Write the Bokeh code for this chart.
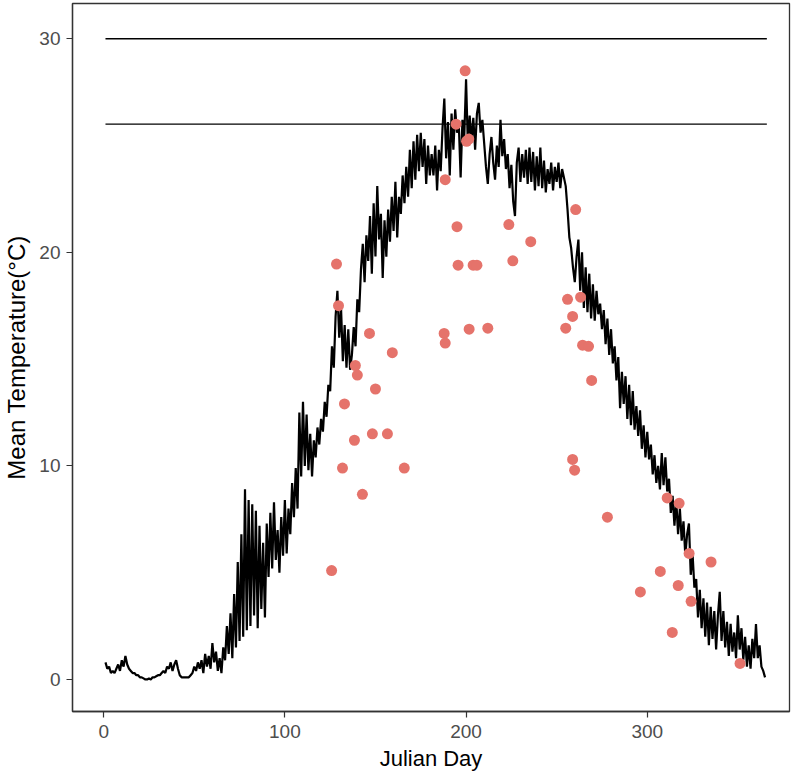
from bokeh.plotting import figure
from bokeh.models import Range1d, FixedTicker
from bokeh.embed import file_html
from bokeh.resources import INLINE

# Daily mean water temperature (Julian day 1..365)
temp = [
    0.8, 0.5, 0.6, 0.3, 0.4, 0.3, 0.5, 0.7, 0.4, 0.9,
    0.6, 1.1, 0.7, 0.5, 0.4, 0.3, 0.3, 0.2, 0.2, 0.1,
    0.1, 0.05, 0.0, 0.0, 0.05, 0.0, 0.1, 0.1, 0.15, 0.2,
    0.2, 0.3, 0.4, 0.3, 0.6, 0.5, 0.8, 0.4, 0.7, 0.9,
    0.5, 0.2, 0.1, 0.1, 0.1, 0.1, 0.1, 0.2, 0.3, 0.6,
    0.4, 0.8, 0.5, 0.9, 0.3, 1.2, 0.6, 1.1, 0.5, 1.7,
    0.8, 1.3, 0.4, 1.0, 0.3, 1.5, 0.9, 2.5, 1.2, 3.1,
    1.0, 4.0, 1.5, 5.5, 1.8, 6.8, 2.0, 8.9, 2.3, 8.4,
    2.5, 8.2, 3.0, 7.9, 2.4, 7.2, 3.3, 6.4, 2.9, 7.3,
    4.8, 7.8, 5.2, 8.3, 5.6, 7.0, 5.0, 7.6, 5.8, 8.4,
    5.9, 8.0, 6.8, 9.2, 7.6, 9.9, 8.0, 12.5, 9.5, 13.0,
    10.0, 12.4, 9.8, 11.5, 9.5, 11.2, 10.4, 11.8, 11.0, 12.2,
    11.6, 13.0, 12.3, 13.8, 13.5, 15.6, 14.6, 17.0, 18.2, 16.0,
    17.4, 14.9, 16.6, 14.6, 16.4, 14.5, 15.2, 16.5, 15.6, 17.8,
    17.2, 19.2, 20.4, 18.6, 20.8, 19.6, 21.7, 19.0, 22.3, 19.8,
    23.1, 20.6, 21.8, 18.8, 21.5, 19.8, 22.0, 20.5, 22.6, 21.0,
    23.3, 20.7, 22.6, 21.8, 23.6, 22.3, 24.0, 22.6, 24.8, 23.0,
    25.2, 23.4, 25.5, 23.8, 25.6, 24.0, 25.3, 23.2, 25.0, 23.6,
    24.6, 23.6, 25.0, 22.9, 24.8, 23.8, 25.8, 27.2, 24.4, 26.1,
    23.6, 26.5, 24.8, 26.7, 25.6, 26.0, 23.5, 26.2, 25.4, 28.1,
    25.0, 26.4, 25.2, 26.3, 24.8, 26.5, 27.0, 25.6, 26.2, 25.1,
    24.0, 23.2, 24.6, 25.4, 24.2, 23.4, 25.0, 24.0, 26.2, 24.5,
    25.3, 23.9, 24.6, 23.0, 24.1, 22.4, 21.7, 24.2, 24.9, 23.3,
    24.6, 23.5, 24.8, 23.2, 24.9, 23.3, 24.7, 22.9, 24.5, 23.1,
    24.9, 23.0, 24.3, 22.8, 23.9, 23.2, 24.2, 22.9, 24.0, 23.3,
    24.2, 23.0, 23.9, 23.5, 23.1, 22.0, 20.7, 20.2, 19.3, 18.6,
    19.8, 20.6, 18.2, 20.0, 17.4, 19.3, 17.2, 19.0, 16.9, 18.5,
    16.8, 18.2, 17.1, 17.6, 16.4, 17.3, 15.7, 16.9, 15.2, 16.4,
    14.8, 15.6, 14.0, 15.1, 12.7, 14.4, 12.9, 14.2, 12.2, 13.8,
    11.9, 13.5, 11.7, 12.8, 11.4, 12.6, 10.8, 11.9, 10.4, 11.6,
    10.3, 11.0, 9.6, 10.5, 9.2, 10.0, 8.9, 10.6, 9.1, 10.4,
    8.8, 9.4, 7.8, 8.6, 7.2, 8.4, 6.8, 8.0, 6.5, 7.4,
    5.8, 6.8, 7.3, 4.9, 5.9, 4.3, 4.7, 2.9, 4.2, 2.4,
    3.8, 2.0, 3.6, 1.6, 3.4, 1.9, 3.2, 1.4, 3.0, 4.1,
    1.8, 3.2, 1.5, 2.7, 1.1, 2.6, 1.3, 2.2, 1.0, 3.0,
    1.4, 2.4, 0.9, 2.0, 0.6, 1.6, 0.5, 1.9, 1.0, 2.6,
    1.0, 1.6, 0.6, 0.4, 0.1,
]
days = list(range(1, len(temp) + 1))

# Observed samples (Julian day, mean temperature)
obs_day = [125.8, 128.5, 129.6, 131.8, 132.9, 138.9, 140.0, 138.4, 142.8, 146.7,
           148.3, 150.0, 156.6, 159.3, 165.9, 187.9, 188.5, 188.5, 195.0, 195.6,
           194.5, 199.5, 200.3, 201.5, 201.7, 203.9, 206.0, 212.0, 223.6, 225.8,
           235.7, 255.0, 256.0, 258.8, 260.5, 263.2, 264.3, 267.6, 269.3, 258.8,
           259.9, 278.0, 296.2, 307.2, 311.0, 313.8, 317.6, 317.1, 323.1, 324.2,
           335.2, 351.2]
obs_temp = [5.1, 19.45, 17.5, 9.9, 12.9, 14.7, 14.25, 11.2, 8.67, 16.2,
            11.5, 13.6, 11.5, 15.3, 9.9, 16.2, 15.75, 23.4, 21.2, 19.4,
            26.0, 28.5, 25.2, 25.3, 16.4, 19.4, 19.4, 16.45, 21.3, 19.6,
            20.5, 16.45, 17.8, 17.0, 22.0, 17.9, 15.65, 15.6, 14.0, 10.3,
            9.8, 7.6, 4.1, 5.06, 8.5, 2.2, 8.25, 4.4, 5.9, 3.66,
            5.5, 0.75]

# Reference thresholds
thr_y = [26, 30]
thr_start = [1, 1]
thr_end = [366, 366]

x_ticks = [0, 100, 200, 300]
y_ticks = [0, 10, 20, 30]

FONT = "Liberation Sans"

p = figure(width=792, height=776, output_backend="svg", toolbar_location=None,
           x_range=Range1d(-17.2, 378.5), y_range=Range1d(-1.5, 31.65),
           min_border_left=71, min_border_right=3, min_border_top=3, min_border_bottom=65)

p.segment(x0=thr_start, y0=thr_y, x1=thr_end, y1=thr_y, line_color="black", line_width=1.4)
p.line(days, temp, line_color="black", line_width=2.2)
p.scatter(obs_day, obs_temp, size=11, fill_color="#E5736B", line_color=None)

p.xgrid.visible = False
p.ygrid.visible = False
p.background_fill_color = "white"
p.border_fill_color = "white"
p.outline_line_color = "#333333"
p.outline_line_width = 1.3

p.xaxis.ticker = FixedTicker(ticks=x_ticks)
p.yaxis.ticker = FixedTicker(ticks=y_ticks)
p.xaxis.axis_label = "Julian Day"
p.yaxis.axis_label = "Mean Temperature(°C)"

for ax in (p.xaxis[0], p.yaxis[0]):
    ax.axis_line_color = "#333333"
    ax.axis_line_width = 1.3
    ax.major_tick_line_color = "#333333"
    ax.major_tick_line_width = 1.2
    ax.major_tick_out = 6
    ax.major_tick_in = 0
    ax.minor_tick_line_color = None
    ax.major_label_text_font = FONT
    ax.major_label_text_font_size = "19px"
    ax.major_label_text_color = "#4D4D4D"
    ax.axis_label_text_font = FONT
    ax.axis_label_text_font_style = "normal"
    ax.axis_label_text_color = "black"

p.xaxis.axis_label_text_font_size = "22px"
p.yaxis.axis_label_text_font_size = "24px"
p.xaxis.major_label_standoff = 7
p.xaxis.axis_label_standoff = 5
p.yaxis.major_label_standoff = 6
p.yaxis.axis_label_standoff = 6

open("out.html", "w").write(file_html(p, INLINE))
